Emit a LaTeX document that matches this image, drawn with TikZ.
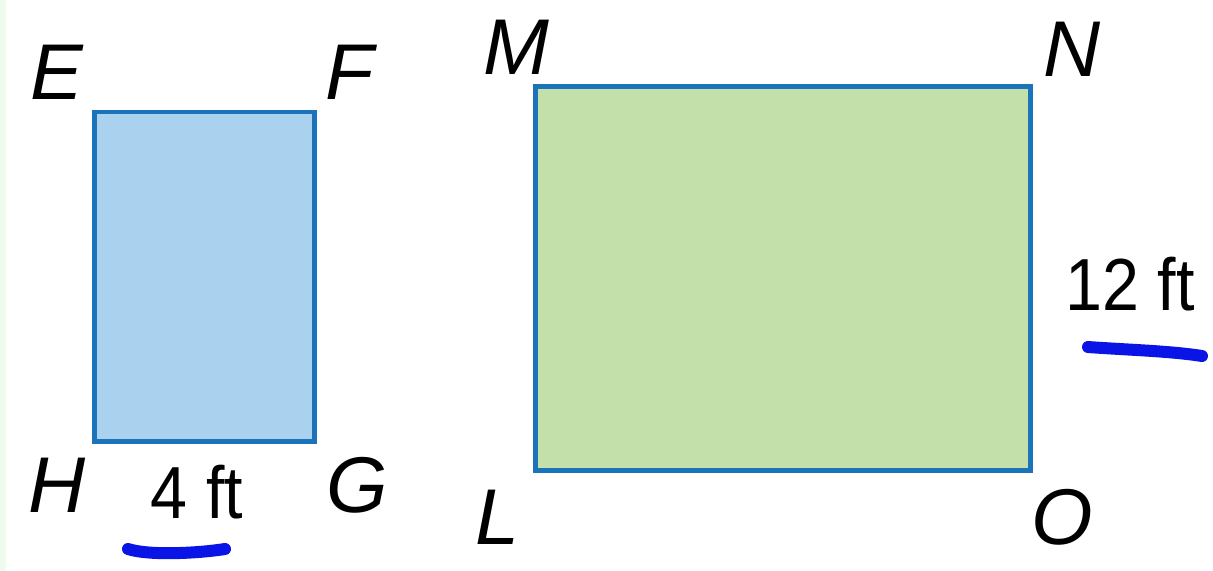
\documentclass[tikz,border=0pt]{standalone}
\usepackage{fontspec}
\setmainfont{Liberation Sans}
\begin{document}
\begin{tikzpicture}[x=0.02cm,y=-0.02cm,
  edgeblue/.style={draw=rectblue,line width=0.1cm},
  vlabel/.style={anchor=base,inner sep=0pt,font=\fontsize{45}{50}\selectfont\itshape},
  dimlabel/.style={anchor=base,inner sep=0pt,font=\fontsize{42}{48}\selectfont,xscale=0.9},
  penmark/.style={draw=penblue,line width=0.24cm,line cap=round}]
\definecolor{rectblue}{HTML}{1B73B9}
\definecolor{fillblue}{HTML}{AAD1EE}
\definecolor{fillgreen}{HTML}{C3DFAA}
\definecolor{penblue}{HTML}{0A14E6}
\definecolor{stripgreen}{HTML}{EEFBEE}
\useasboundingbox (0,0) rectangle (1213,571);
\fill[white] (0,0) rectangle (1213,571);
\fill[stripgreen] (0,0) rectangle (6,571);
% rectangles
\draw[edgeblue,fill=fillblue] (94,112) rectangle (314,441);
\draw[edgeblue,fill=fillgreen] (535,87) rectangle (1030,470);
% vertex labels
\node[vlabel] (E) at (57,99) {E};
\node[vlabel] (F) at (350,99) {F};
\node[vlabel] (H) at (57,512) {H};
\node[vlabel] (G) at (357,512) {G};
\node[vlabel] (M) at (516,75) {M};
\node[vlabel] (N) at (1072,77) {N};
\node[vlabel] (L) at (497,544) {L};
\node[vlabel] (O) at (1062,544) {O};
% dimension labels
\node[dimlabel,transform shape] (d4) at (197,518) {4 ft};
\node[dimlabel,transform shape] (d12) at (1130,310) {12 ft};
% pen marks
\draw[penmark] (128,549) .. controls (150,556) and (200,553) .. (225,549);
\draw[penmark] (1088,347) .. controls (1130,350) and (1170,351) .. (1202,356);
\end{tikzpicture}
\end{document}
